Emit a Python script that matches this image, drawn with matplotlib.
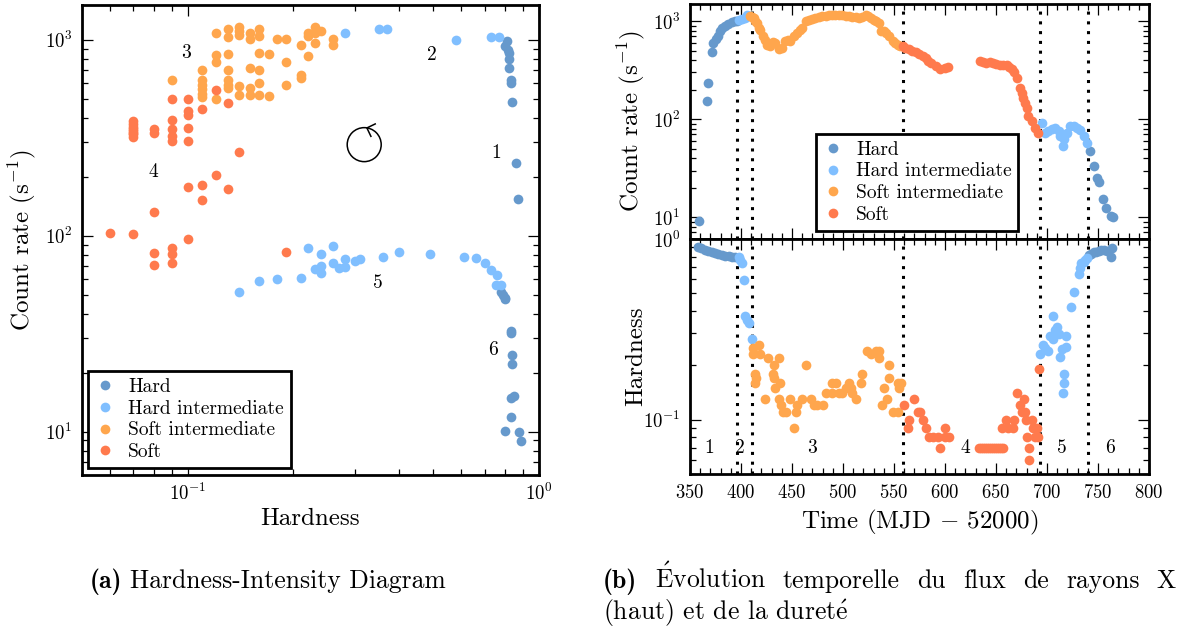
import matplotlib.pyplot as plt
from matplotlib.patches import Circle
from matplotlib.lines import Line2D
from matplotlib.transforms import ScaledTranslation
from matplotlib.ticker import MultipleLocator, NullFormatter

plt.rcParams['font.family'] = ['cmr10', 'DejaVu Serif']
plt.rcParams['mathtext.fontset'] = 'cm'
plt.rcParams['axes.formatter.use_mathtext'] = True
plt.rcParams['axes.linewidth'] = 2.0
for ax_ in ('xtick', 'ytick'):
    plt.rcParams[ax_ + '.direction'] = 'in'
    plt.rcParams[ax_ + '.major.size'] = 8
    plt.rcParams[ax_ + '.minor.size'] = 4
    plt.rcParams[ax_ + '.major.width'] = 0.9
    plt.rcParams[ax_ + '.minor.width'] = 0.9
    plt.rcParams[ax_ + '.labelsize'] = 13.5
plt.rcParams['xtick.top'] = True
plt.rcParams['ytick.right'] = True

# ---- (a) hardness-intensity diagram ----
hid_hard_h = [0.81, 0.80, 0.815, 0.82, 0.82, 0.82, 0.83, 0.83, 0.836, 0.86, 0.87,
              0.78, 0.79, 0.80, 0.80, 0.83, 0.83, 0.84, 0.84, 0.83, 0.85, 0.83, 0.80, 0.875, 0.89]
hid_hard_c = [980, 924, 889, 855, 797, 717, 625, 601, 481, 235, 153,
              51.3, 50.0, 47.3, 48.2, 32.6, 31.9, 24.6, 22.2, 14.8, 15.2, 11.9, 10.05, 9.9, 8.98]
hid_hims_h = [0.28, 0.35, 0.37, 0.58, 0.73, 0.77, 0.14, 0.16, 0.18, 0.21, 0.22, 0.24, 0.23, 0.24,
              0.24, 0.26, 0.26, 0.27, 0.28, 0.28, 0.30, 0.31, 0.36, 0.40, 0.49, 0.61, 0.66, 0.70,
              0.73, 0.76, 0.755, 0.78]
hid_hims_c = [1082, 1134, 1134, 1000, 1028, 1028, 51.6, 58.6, 60.0, 60.6, 86.7, 80.7, 67.8, 69.8,
              64.1, 88.9, 72.6, 68.6, 75.5, 69.1, 74.3, 75.5, 77.9, 82.5, 80.9, 77.4, 76.8, 72.1,
              67.1, 63.1, 56.2, 56.2]
hid_sims_h = [0.12, 0.13, 0.13, 0.14, 0.14, 0.14, 0.15, 0.15, 0.16, 0.16, 0.18, 0.19, 0.21, 0.22,
              0.22, 0.23, 0.23, 0.24, 0.23, 0.26, 0.26, 0.22, 0.21, 0.21, 0.12, 0.12, 0.13, 0.16,
              0.17, 0.19, 0.11, 0.13, 0.15, 0.16, 0.09, 0.11, 0.11, 0.11, 0.11, 0.11, 0.12, 0.13,
              0.13, 0.13, 0.14, 0.15, 0.15, 0.16, 0.16, 0.14, 0.17, 0.19]
hid_sims_c = [1082, 1134, 1028, 1156, 1102, 1051, 1082, 1012, 1134, 1040, 1008, 1008, 943, 1082,
              1043, 1160, 1082, 1102, 962, 1008, 943, 829, 663, 637, 838, 766, 845, 855,
              848, 766, 697, 697, 717, 697, 625, 625, 589, 560, 530, 510, 498, 625,
              589, 567, 582, 567, 520, 601, 520, 520, 518, 587]
hid_soft_h = [0.12, 0.13, 0.09, 0.10, 0.11, 0.10, 0.10, 0.09, 0.07, 0.07, 0.07, 0.07, 0.07, 0.07,
              0.07, 0.07, 0.08, 0.08, 0.09, 0.09, 0.09, 0.10, 0.10, 0.14, 0.12, 0.10, 0.11, 0.13,
              0.11, 0.08, 0.06, 0.07, 0.10, 0.08, 0.08, 0.09, 0.09, 0.09, 0.19]
hid_soft_c = [551, 475, 498, 498, 443, 431, 414, 388, 382, 370, 360, 350, 343, 335,
              328, 320, 350, 334, 350, 321, 303, 354, 303, 266, 203, 176, 182, 172,
              151, 132, 103, 102, 96, 81.6, 71.1, 85.9, 80.1, 72.1, 82.2]
hid_phase_labels = ['1', '2', '3', '4', '5', '6']
hid_phase_h = [0.757, 0.495, 0.099, 0.080, 0.348, 0.738]
hid_phase_c = [265, 838, 858, 212, 57.5, 26.2]

# ---- (b) light curve (top) ----
lc_hard_t = [359.2, 366.4, 367.4, 371.3, 373.0, 375.2, 377.2, 379.6, 381.8, 384.5, 387.7, 391.0,
             393.7, 395.9, 742.5, 745.7, 749.1, 750.7, 754.6, 758.3, 762.9, 764.9]
lc_hard_c = [9.1, 153.6, 236, 484, 603, 662, 715, 791, 857, 904, 948, 977,
             1000, 1017, 47.6, 33.5, 25.1, 22.9, 15.5, 12.4, 10.4, 10.0]
lc_hims_t = [397.6, 400.9, 403.5, 405.8, 407.4, 694.9, 698.2, 701.4, 704.8, 708.0, 711.3, 712.9,
             715.6, 716.9, 719.5, 722.8, 726.1, 729.4, 732.6, 735.9, 739.2]
lc_hims_c = [1024, 1058, 1083, 1170, 1124, 92.5, 73.2, 76.0, 80.4, 82.3, 76.0, 67.6,
             53.5, 62.6, 73.2, 85.4, 85.4, 82.3, 77.8, 67.6, 57.9]
lc_sims_t = [409.1, 410.5, 412.4, 414.0, 415.6, 417.3, 419.0, 421.5, 423.9, 425.5, 428.8, 431.0,
             433.8, 437.0, 440.3, 443.6, 446.0, 448.5, 451.8, 455.0, 457.5, 460.0, 463.3, 466.5,
             469.8, 473.0, 476.4, 479.5, 483.0, 486.0, 489.5, 492.5, 496.1, 499.5, 502.7, 506.0,
             509.2, 512.5, 515.8, 519.0, 522.5, 525.0, 527.4, 530.0, 532.3, 535.6, 537.2, 540.0,
             542.2, 545.4, 548.7, 551.0, 553.6, 556.0]
lc_sims_c = [1143, 1100, 1083, 1000, 963, 857, 810, 700, 651, 579, 557, 610,
             603, 515, 536, 626, 640, 626, 704, 762, 820, 857, 1000, 1040,
             1058, 1090, 1108, 1130, 1143, 1160, 1170, 1160, 1151, 1150, 1143, 1120,
             1108, 1095, 1083, 1110, 1170, 1130, 1083, 1040, 1000, 963, 791, 800,
             762, 704, 626, 600, 579, 560]
lc_soft_t = [558.5, 561.0, 565.1, 568.0, 571.7, 575.0, 578.2, 581.6, 583.2, 586.5, 591.4, 594.7,
             599.6, 602.9, 634.1, 637.0, 640.7, 644.0, 647.2, 650.0, 653.8, 657.0, 660.4, 663.0,
             665.3, 668.0, 670.3, 673.5, 675.2, 676.8, 678.5, 680.1, 681.7, 685.0, 688.3, 691.6]
lc_soft_c = [557, 535, 515, 500, 484, 458, 441, 424, 392, 377, 349, 323,
             335, 343, 392, 385, 377, 380, 377, 365, 354, 360, 362, 345,
             323, 300, 266, 210, 187, 166, 148, 131, 108, 96, 82, 73]

# ---- (b) hardness (bottom) ----
hr_hard_t = [358.2, 361.0, 364.8, 368.0, 371.3, 374.5, 377.9, 381.0, 384.5, 388.0, 391.0, 394.3,
             740.8, 743.0, 745.7, 748.0, 750.7, 753.0, 755.6, 758.9, 762.9, 763.9]
hr_hard_h = [0.907, 0.89, 0.870, 0.857, 0.845, 0.834, 0.824, 0.816, 0.81, 0.805, 0.80, 0.796,
             0.817, 0.83, 0.845, 0.85, 0.859, 0.865, 0.870, 0.859, 0.80, 0.889]
hr_hims_t = [397.6, 399.3, 400.8, 402.5, 404.2, 405.8, 407.4, 410.7,
             693.2, 695.9, 698.2, 701.4, 705.7, 703.1, 706.3, 708.0, 709.7, 711.3, 712.9, 714.6,
             716.9, 716.9, 715.6, 718.8, 718.5, 723.5, 726.7, 731.0, 731.9, 733.6, 735.9, 737.6, 739.2]
hr_hims_h = [0.799, 0.766, 0.735, 0.595, 0.373, 0.358, 0.344, 0.278,
             0.23, 0.26, 0.25, 0.24, 0.377, 0.292, 0.28, 0.312, 0.325, 0.2975, 0.222, 0.245,
             0.178, 0.1595, 0.140, 0.292, 0.252, 0.419, 0.511, 0.644, 0.695, 0.741, 0.75, 0.766, 0.789]
hr_sims_t = [411.4, 417.3, 411.4, 419.0, 426.5, 437.0, 432.1, 431.1, 432.1, 414.0, 414.6, 414.0,
             433.8, 438.7, 423.2, 437.0, 439.3, 441.0, 444.2, 448.5, 453.5, 451.8, 455.0, 460.0,
             468.2, 471.5, 474.8, 480.4, 463.9, 483.0, 489.5, 492.9, 489.5, 496.1, 499.4, 502.7,
             506.0, 507.7, 509.2, 512.6, 517.5, 519.1, 524.0, 527.4, 532.3, 535.6, 535.6, 545.4,
             545.4, 540.5, 542.7, 537.8, 548.7, 553.6, 553.6, 555.3, 556.9]
hr_sims_h = [0.25, 0.26, 0.23, 0.23, 0.22, 0.22, 0.20, 0.18, 0.17, 0.18, 0.17, 0.16,
             0.15, 0.16, 0.13, 0.13, 0.12, 0.11, 0.11, 0.13, 0.11, 0.09, 0.12, 0.13,
             0.13, 0.12, 0.12, 0.12, 0.20, 0.14, 0.16, 0.16, 0.14, 0.14, 0.14, 0.15,
             0.16, 0.15, 0.14, 0.13, 0.16, 0.18, 0.24, 0.23, 0.24, 0.24, 0.22, 0.20,
             0.17, 0.15, 0.13, 0.12, 0.11, 0.11, 0.16, 0.15, 0.16]
hr_soft_t = [560.2, 563.5, 565.1, 569.4, 573.3, 575.5, 578.2, 581.6, 584.8, 588.1, 593.0, 595.4,
             599.6, 599.6, 603.8, 633, 635, 637, 639, 641, 643, 645, 647, 649, 651, 653, 655, 657,
             655.5, 659.7, 662.0, 666.3, 667.6, 670.3, 673.5, 675.2, 677.5, 678.5, 679.4, 680.7,
             682.7, 682.7, 685.0, 686.6, 688.3, 688.3, 690.0, 691.6, 692.6]
hr_soft_h = [0.12, 0.09, 0.10, 0.13, 0.11, 0.11, 0.10, 0.09, 0.08, 0.08, 0.08, 0.07,
             0.09, 0.08, 0.08, 0.07, 0.07, 0.07, 0.07, 0.07, 0.07, 0.07, 0.07, 0.07, 0.07, 0.07, 0.07, 0.07,
             0.09, 0.10, 0.09, 0.09, 0.10, 0.14, 0.12, 0.11, 0.13, 0.11, 0.10, 0.08,
             0.07, 0.06, 0.10, 0.09, 0.09, 0.08, 0.09, 0.08, 0.19]
transitions = [396, 411, 558.5, 693.2, 740.2]
time_phase_labels = ['1', '2', '3', '4', '5', '6']
time_phase_t = [369, 398.5, 469.5, 620, 715, 762]
time_phase_h = [0.07, 0.07, 0.07, 0.07, 0.07, 0.07]

states = ['Hard', 'Hard intermediate', 'Soft intermediate', 'Soft']
colors = ['#6699cc', '#80bfff', '#ffa64d', '#ff7a4d']

fig = plt.figure(figsize=(11.77, 6.33), dpi=100)
ax_a = fig.add_axes([0.0697, 0.2496, 0.3882, 0.7424])
ax_lc = fig.add_axes([0.5862, 0.6224, 0.39, 0.3713])
ax_hr = fig.add_axes([0.5862, 0.2512, 0.39, 0.3712], sharex=ax_lc)

def dots(ax, x, y, color, label):
    ax.plot(x, y, 'o', ms=7.0, color=color, mec='none', label=label, zorder=3)

hid = [(hid_hard_h, hid_hard_c), (hid_hims_h, hid_hims_c),
       (hid_sims_h, hid_sims_c), (hid_soft_h, hid_soft_c)]
lc = [(lc_hard_t, lc_hard_c), (lc_hims_t, lc_hims_c),
      (lc_sims_t, lc_sims_c), (lc_soft_t, lc_soft_c)]
hr = [(hr_hard_t, hr_hard_h), (hr_hims_t, hr_hims_h),
      (hr_sims_t, hr_sims_h), (hr_soft_t, hr_soft_h)]
for (x, y), c, s in zip(hid, colors, states):
    dots(ax_a, x, y, c, s)
for (x, y), c, s in zip(lc, colors, states):
    dots(ax_lc, x, y, c, s)
for (x, y), c, s in zip(hr, colors, states):
    dots(ax_hr, x, y, c, s)

# panel (a)
ax_a.set_xscale('log')
ax_a.set_yscale('log')
ax_a.set_xlim(0.05, 1.0)
ax_a.set_ylim(6, 1500)
ax_a.xaxis.set_minor_formatter(NullFormatter())
ax_a.yaxis.set_minor_formatter(NullFormatter())
ax_a.tick_params(axis='x', pad=6)
ax_a.tick_params(axis='y', pad=7)
ax_a.set_xlabel('Hardness', fontsize=18)
ax_a.set_ylabel('Count rate (s$^{-1}$)', fontsize=18)
ax_a.xaxis.set_label_coords(0.5, -0.07)
ax_a.yaxis.set_label_coords(-0.097, 0.5)
for lab, x, y in zip(hid_phase_labels, hid_phase_h, hid_phase_c):
    ax_a.text(x, y, lab, fontsize=14, ha='center', va='center')

# rotation sign
loop = fig.dpi_scale_trans + ScaledTranslation(0.318, 291, ax_a.transData)
ax_a.add_patch(Circle((0, 0), 0.17, transform=loop, fill=False, lw=1.1, color='k'))
ax_a.add_line(Line2D([0.11, 0.027, 0.067], [0.207, 0.167, 0.083],
                     transform=loop, color='k', lw=1.1))

leg_kw = dict(fontsize=14, frameon=True, fancybox=False, edgecolor='k', framealpha=1,
              numpoints=1, handlelength=1.0, handletextpad=0.7, labelspacing=0.2,
              borderpad=0.35, borderaxespad=0)
leg = ax_a.legend(loc='lower left', bbox_to_anchor=(0.014, 0.015), **leg_kw)
leg.get_frame().set_linewidth(2)

# panel (b) top
ax_lc.set_yscale('log')
ax_lc.set_ylim(6, 1500)
ax_lc.set_xlim(350, 800)
ax_lc.yaxis.set_minor_formatter(NullFormatter())
ax_lc.tick_params(axis='x', labelbottom=False)
ax_lc.tick_params(axis='y', pad=7)
ax_lc.set_ylabel('Count rate (s$^{-1}$)', fontsize=18)
ax_lc.yaxis.set_label_coords(-0.094, 0.5)
leg = ax_lc.legend(loc='lower left', bbox_to_anchor=(0.275, 0.035), **leg_kw)
leg.get_frame().set_linewidth(2)

# panel (b) bottom
ax_hr.set_yscale('log')
ax_hr.set_ylim(0.05, 1.0)
ax_hr.yaxis.set_minor_formatter(NullFormatter())
ax_hr.xaxis.set_major_locator(MultipleLocator(50))
ax_hr.xaxis.set_minor_locator(MultipleLocator(10))
ax_hr.tick_params(axis='x', pad=7)
ax_hr.tick_params(axis='y', pad=7)
ax_hr.set_xlabel('Time (MJD $-$ 52000)', fontsize=18)
ax_hr.set_ylabel('Hardness', fontsize=18)
ax_hr.xaxis.set_label_coords(0.5, -0.145)
ax_hr.yaxis.set_label_coords(-0.094, 0.5)
for lab, x, y in zip(time_phase_labels, time_phase_t, time_phase_h):
    ax_hr.text(x, y, lab, fontsize=14, ha='center', va='center')

for ax in (ax_lc, ax_hr):
    for tt in transitions:
        ax.axvline(tt, color='k', ls=(0, (1, 2.2)), lw=2.2, zorder=2)

# captions
fig.canvas.draw()
rend = fig.canvas.get_renderer()
W = fig.bbox.width
cap_size = 18.5
base1, base2 = 0.071, 0.0205

ta = fig.text(90 / W, base1, '(a)', fontsize=cap_size, family='cmb10', va='baseline')
wa = ta.get_window_extent(rend).width
fig.text((90 + wa + 8) / W, base1, 'Hardness-Intensity Diagram', fontsize=cap_size, va='baseline')

words = ['(b)', r'$\acute{\mathrm{E}}$volution', 'temporelle', 'du', 'flux', 'de', 'rayons', 'X']
texts = []
for i, w in enumerate(words):
    fam = 'cmb10' if i == 0 else 'cmr10'
    texts.append(fig.text(0, base1, w, fontsize=cap_size, family=fam, va='baseline'))
widths = [t.get_window_extent(rend).width for t in texts]
x0, x1 = 603, 1176
gap = (x1 - x0 - sum(widths)) / (len(words) - 1)
xpos = x0
for t, w in zip(texts, widths):
    t.set_x(xpos / W)
    xpos += w + gap
fig.text(x0 / W, base2, r'(haut) et de la duret$\acute{\mathrm{e}}$', fontsize=cap_size, va='baseline')

fig.savefig('out.png', dpi=100)
